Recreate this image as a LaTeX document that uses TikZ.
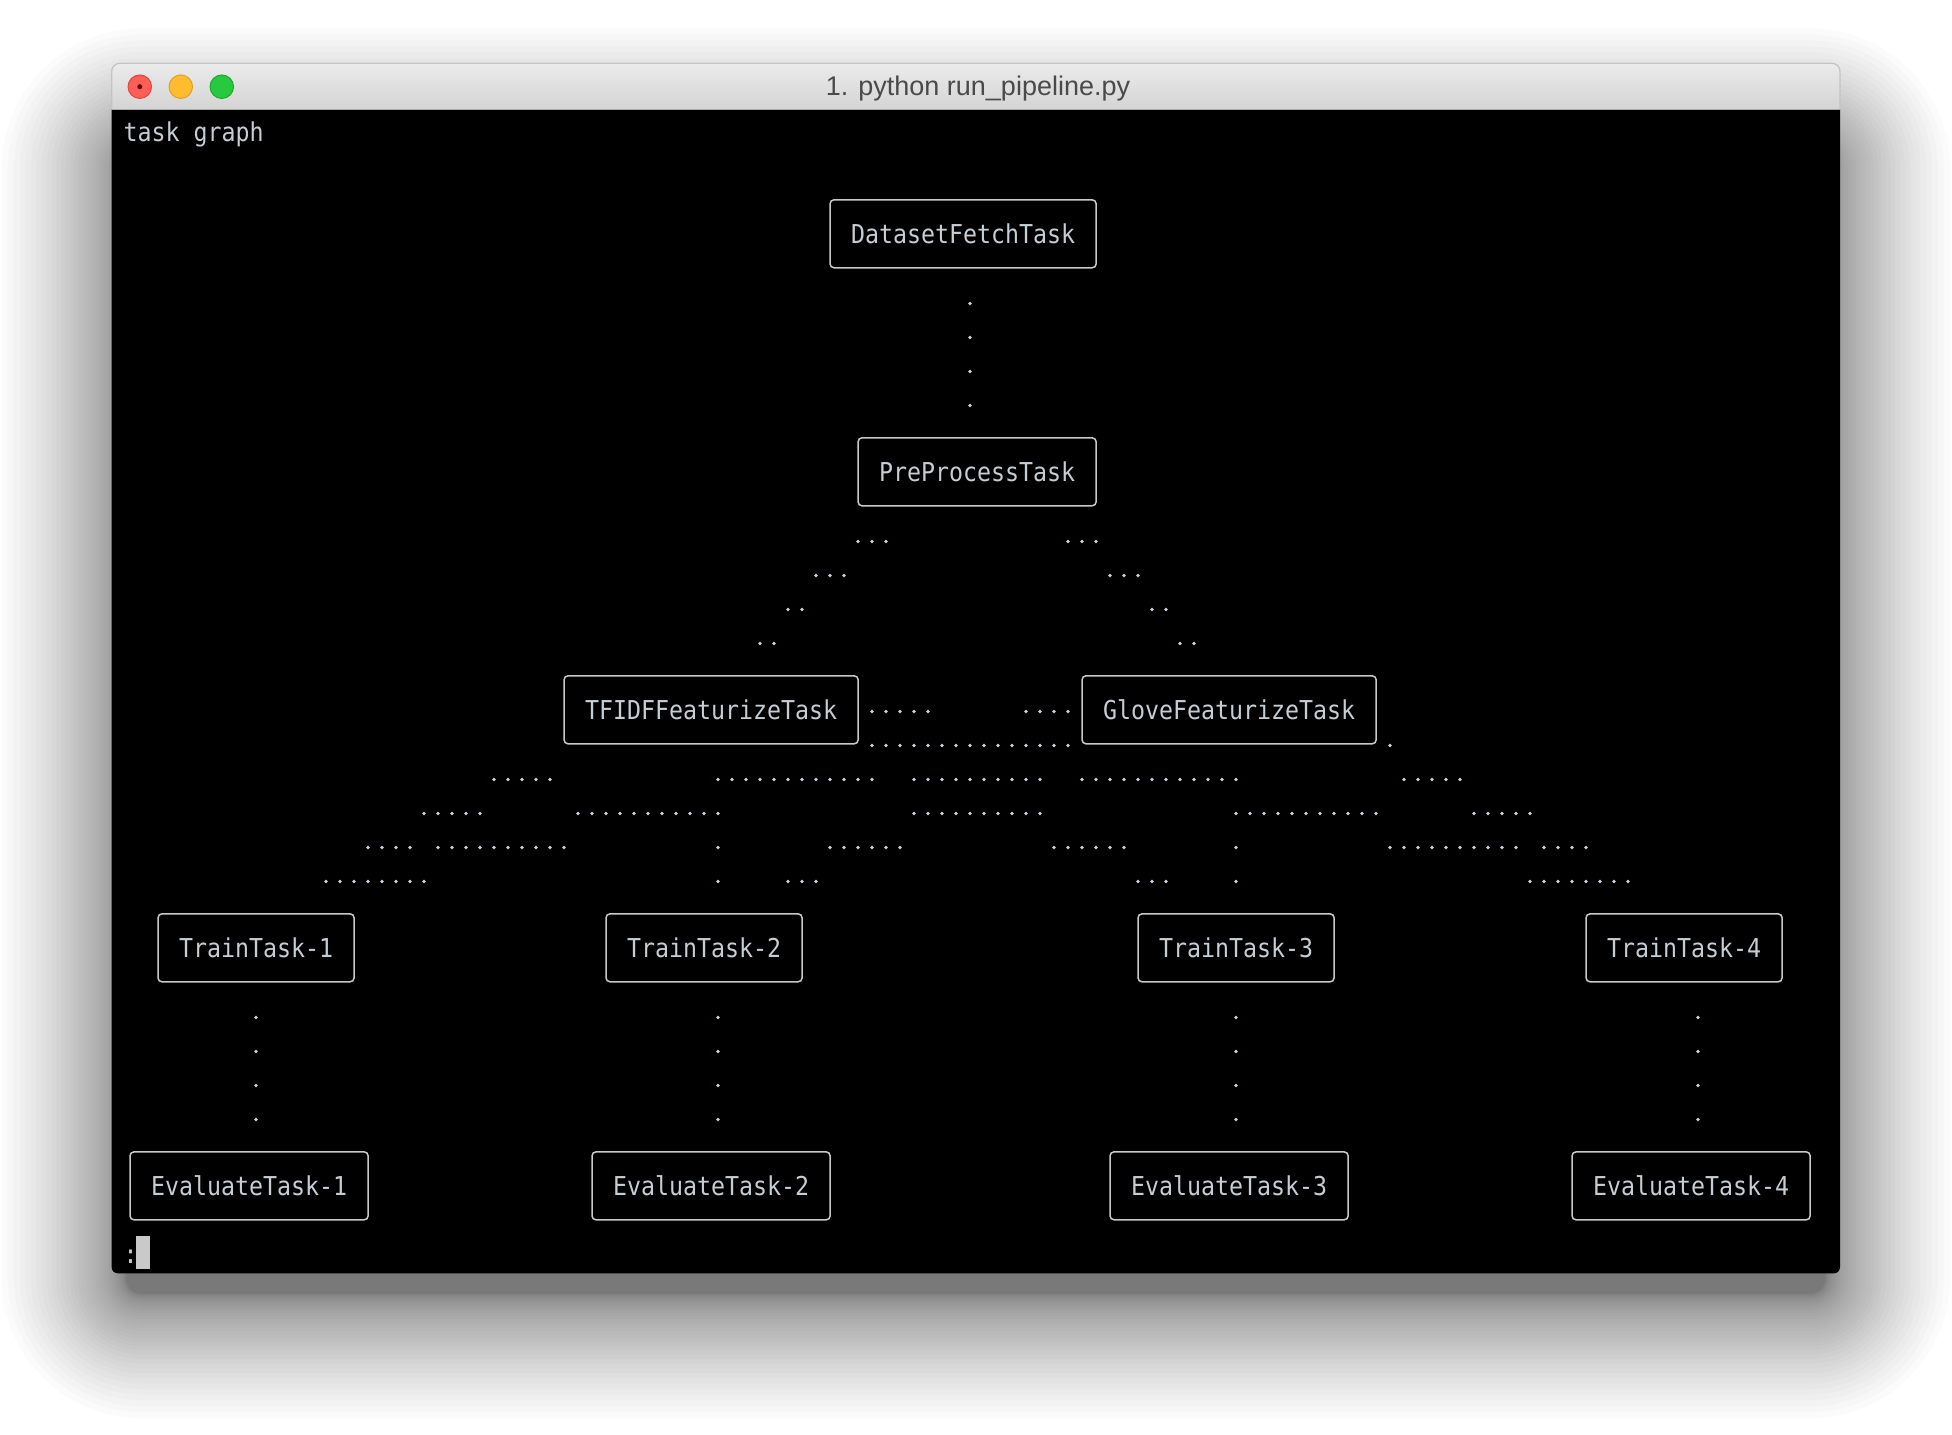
\documentclass[tikz,border=0pt]{standalone}
\usepackage{fontspec}
\setmainfont{Liberation Sans}
\newfontfamily\termfont[FakeStretch=0.895]{DejaVu Sans Mono}
\usetikzlibrary{positioning,calc}

\definecolor{termtext}{HTML}{C6CDD3}
\definecolor{boxline}{HTML}{C9C9C9}
\definecolor{dotgray}{HTML}{C8D3DA}
\definecolor{bartop}{HTML}{EBEBEB}
\definecolor{barbot}{HTML}{D4D4D4}
\definecolor{barline}{HTML}{ABABAB}
\definecolor{winedge}{HTML}{C4C4C4}
\definecolor{titletext}{HTML}{4A4A4A}
\definecolor{closered}{HTML}{FF5F57}
\definecolor{closeedge}{HTML}{E0443E}
\definecolor{closedot}{HTML}{5A0F0A}
\definecolor{minyellow}{HTML}{FEBC2E}
\definecolor{minedge}{HTML}{DEA123}
\definecolor{zoomgreen}{HTML}{28C840}
\definecolor{zoomedge}{HTML}{1AAB29}

\tikzset{
	task/.style = {draw=boxline, line width=0.6pt, rounded corners=1.6pt, anchor=west, outer sep=0pt, inner xsep=8.4pt, inner ysep=0pt, minimum height=27.2pt, text height=7.6pt, text depth=0pt, text=termtext, font=\termfont\fontsize{10.4}{12}\selectfont},
	term/.style = {anchor=west, inner sep=0pt, text height=7.6pt, text depth=0pt, text=termtext, font=\termfont\fontsize{10.4}{12}\selectfont},
	light/.style = {circle, minimum size=9.4pt, inner sep=0pt, line width=0.4pt},
	dot/.style = {fill=dotgray}
}
% a run of dots along one text row, and down one text column
\newcommand{\dotrun}[3]{\foreach \c in {#2,...,#3} \fill[dot] (\c,#1+0.05) circle (0.75pt);}
\newcommand{\dotdown}[3]{\foreach \r in {#2,...,#3} \fill[dot] (#1,\r+0.05) circle (0.75pt);}

\begin{document}
\begin{tikzpicture}[x=0.4pt, y=-0.4pt]
	\useasboundingbox (0,0) rectangle (1952,1434);
	\fill[white] (0,0) rectangle (1952,1434);
	% window shadow
	\foreach \i in {1,...,40} {
		\pgfmathsetmacro\sp{125*(\i/40)^2}
		\pgfmathsetmacro\rc{6+0.4*\sp}
		\fill[black, opacity=0.015, rounded corners=\rc pt] (126.7-\sp,153.3-\sp) rectangle (1825+\sp,1293.3+\sp);
	}
	% terminal body and title bar
	\fill[black] (111.7,109.3) -- (111.7,1267.3) arc[start angle=180, end angle=270, radius=2.4pt] -- (1834,1273.3) arc[start angle=270, end angle=360, radius=2.4pt] -- (1840,109.3) -- cycle;
	\shade[top color=bartop, bottom color=barbot] (111.7,109.3) -- (111.7,71.3) arc[start angle=180, end angle=90, radius=3.2pt] -- (1832,63.3) arc[start angle=90, end angle=0, radius=3.2pt] -- (1840,109.3) -- cycle;
	\draw[winedge, line width=0.5pt] (111.7,109.3) -- (111.7,71.3) arc[start angle=180, end angle=90, radius=3.2pt] -- (1832,63.3) arc[start angle=90, end angle=0, radius=3.2pt] -- (1840,109.3);
	\draw[barline, line width=0.6pt] (111.7,109.3) -- (1840,109.3);
	\node[light, fill=closered, draw=closeedge] (close) at (139.8,86.7) {};
	\node[light, fill=minyellow, draw=minedge, right=6.6pt of close] (minimize) {};
	\node[light, fill=zoomgreen, draw=zoomedge, right=6.6pt of minimize] (maximize) {};
	\fill[closedot] (close) circle (1pt);
	\node[text=titletext, font=\fontsize{10.8}{13}\selectfont] (title) at (978,89) {1. python run\_pipeline.py};

	% character grid of the terminal: x = column, y = row
	\begin{scope}[shift={(130,131.8)}, x=5.6pt, y=-13.6pt]
		\node[term] (header) at (-0.5,0) {task graph};

		\node[task] (fetch) at (50,3) {DatasetFetchTask};
		\node[task] (prep) at (52,10) {PreProcessTask};
		\node[task] (tfidf) at (31,17) {TFIDFFeaturizeTask};
		\node[task] (glove) at (68,17) {GloveFeaturizeTask};
		\node[task] (train1) at (2,24) {TrainTask-1};
		\node[task] (train2) at (34,24) {TrainTask-2};
		\node[task] (train3) at (72,24) {TrainTask-3};
		\node[task] (train4) at (104,24) {TrainTask-4};
		\node[task] (eval1) at (0,31) {EvaluateTask-1};
		\node[task] (eval2) at (33,31) {EvaluateTask-2};
		\node[task] (eval3) at (70,31) {EvaluateTask-3};
		\node[task] (eval4) at (103,31) {EvaluateTask-4};

		% fetch -> prep
		\dotdown{60}{5}{8}
		% prep -> tfidf, glove
		\dotrun{12}{52}{54} \dotrun{13}{49}{51} \dotrun{14}{47}{48} \dotrun{15}{45}{46}
		\dotrun{12}{67}{69} \dotrun{13}{70}{72} \dotrun{14}{73}{74} \dotrun{15}{75}{76}
		% tfidf, glove -> train tasks
		\dotrun{17}{53}{57} \dotrun{17}{64}{67}
		\dotrun{18}{53}{67} \dotrun{18}{90}{90}
		\dotrun{19}{26}{30} \dotrun{19}{42}{53} \dotrun{19}{56}{65} \dotrun{19}{68}{79} \dotrun{19}{91}{95}
		\dotrun{20}{21}{25} \dotrun{20}{32}{42} \dotrun{20}{56}{65} \dotrun{20}{79}{89} \dotrun{20}{96}{100}
		\dotrun{21}{17}{20} \dotrun{21}{22}{31} \dotrun{21}{42}{42} \dotrun{21}{50}{55} \dotrun{21}{66}{71} \dotrun{21}{79}{79} \dotrun{21}{90}{99} \dotrun{21}{101}{104}
		\dotrun{22}{14}{21} \dotrun{22}{42}{42} \dotrun{22}{47}{49} \dotrun{22}{72}{74} \dotrun{22}{79}{79} \dotrun{22}{100}{107}
		% train -> evaluate
		\dotdown{9}{26}{29} \dotdown{42}{26}{29} \dotdown{79}{26}{29} \dotdown{112}{26}{29}

		\node[term] (prompt) at (-0.5,33) {:};
		\fill[boxline] (0.43,32.48) rectangle (1.43,33.46);
	\end{scope}
\end{tikzpicture}
\end{document}
